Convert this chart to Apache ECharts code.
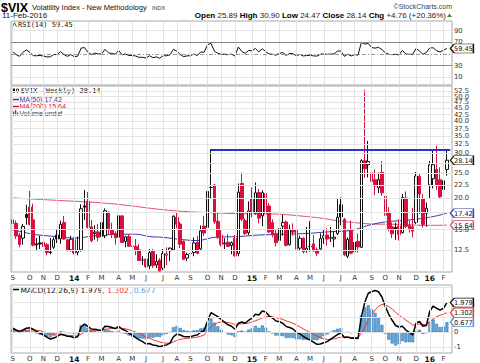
<!DOCTYPE html>
<html><head><meta charset="utf-8">
<script src="https://cdn.jsdelivr.net/npm/echarts@6/dist/echarts.min.js"></script>
<style>html,body{margin:0;padding:0;background:#fff}#c{width:480px;height:363px}</style>
</head><body><div id="c"></div>
<script>
// ---- data: weekly $VIX, Sep 2013 - Feb 2016 ----
const startDate = [2013, 8, 2];   // first week (Mon 2013-09-02)
const weekSlots = 129;            // 128 weeks + one empty slot at right
const opens = [16.4,15.9,14.3,13.9,17.2,18.4,16.4,13.2,13.3,13.4, 13.1,12.2,12.8,14.3,13.8,16.0,13.7,12.5,13.7,12.2, 12.5,18.6,19.4,15.4,14.5,14.7,16.0,14.2,17.6,15.0, 14.5,14.0,17.0,13.5,14.1,12.9,12.9,12.5,11.4,11.5, 10.8,12.4,10.9,11.4,10.6,11.9,12.4,12.5,16.8,15.8, 13.5,11.6,12.1,12.2,13.4,12.6,15.5,15.3,22.0,22.5, 16.2,14.3,13.2,13.4,13.0,13.9,12.1,22.8,16.3,14.6, 19.9,17.4,21.0,17.0,20.8,18.6,16.0,14.5,13.6,15.5, 16.1,13.1,15.0,15.0,12.7,13.9,12.4,12.9,13.2,12.5, 12.6,13.9,14.3,13.9,13.8,14.5,18.8,16.5,11.8,15.0, 12.3,13.5,12.8,28.0,27.0,25.1,23.6,21.9,25.2,20.3, 17.5,15.4,15.3,15.5,14.6,20.0,15.6,15.4,16.0,24.3, 19.9,17.4,22.5,23.8,25.9,23.6,21.6,25.89];
const highs = [17.4,16.3,14.6,15.8,18.8,21.3,19.0,13.9,14.2,14.3, 13.3,13.9,14.0,15.0,16.3,17.0,13.8,14.2,14.0,14.1, 18.9,21.5,21.1,16.4,15.6,15.8,17.3,18.2,17.7,16.0, 14.8,17.3,17.1,14.2,14.4,14.1,13.8,13.2,11.8,11.5, 12.6,12.6,12.0,11.6,12.6,12.8,12.8,17.1,17.6,16.1, 13.6,12.2,12.5,14.0,14.2,15.6,17.0,22.0,31.06,22.7, 17.6,15.0,13.9,14.4,13.5,14.3,22.8,25.2,16.6,19.4, 22.0,23.0,21.7,21.4,21.4,19.1,16.5,15.0,15.8,17.2, 16.3,15.7,15.9,15.3,14.2,14.0,15.4,16.2,14.3,12.8, 14.5,15.0,15.2,15.4,14.8,19.9,20.1,16.7,14.0,16.3, 14.1,14.5,28.4,53.29,33.5,27.5,25.9,25.2,27.9,20.9, 18.4,16.0,16.0,16.5,20.7,21.2,16.3,18.3,25.3,25.0, 20.7,19.2,27.9,30.9,32.1,26.4,25.2,30.90];
const lows = [15.2,13.8,12.8,13.1,15.7,15.6,12.9,12.5,12.6,12.4, 11.9,12.0,12.6,13.3,13.2,13.7,12.3,12.3,12.0,11.9, 12.3,16.4,15.2,13.4,13.7,13.5,13.6,13.9,14.3,13.9, 13.1,13.8,13.3,12.8,12.9,12.6,11.9,11.3,10.9,10.6, 10.5,10.6,10.6,10.3,10.4,10.9,11.3,12.4,15.2,12.7, 11.4,11.3,11.5,11.8,12.0,12.4,14.2,14.4,19.9,15.8, 13.8,12.9,12.6,12.9,12.0,11.8,11.8,16.2,14.3,14.3, 16.8,17.2,15.9,15.5,16.9,14.6,14.0,12.9,13.0,14.2, 12.9,13.0,14.2,12.5,12.4,12.1,12.2,12.3,12.3,11.8, 12.5,13.2,13.0,13.4,12.8,14.3,15.6,11.8,11.6,12.0, 11.9,12.2,12.7,24.0,24.1,21.6,20.5,20.9,20.4,16.4, 14.8,13.9,13.7,13.6,14.5,15.2,14.6,14.0,15.8,17.3, 15.3,15.4,20.0,21.8,21.5,19.9,20.2,24.47];
const closes = [15.85,14.16,13.12,15.46,16.74,15.72,13.04,13.09,13.19,12.90, 12.19,12.26,13.70,13.79,15.76,13.79,12.46,13.76,12.14,12.44, 18.14,18.41,15.29,13.57,14.68,14.00,14.11,17.82,15.00,14.41, 13.96,17.03,13.36,14.06,12.91,12.92,12.44,11.36,11.40,10.73, 12.18,10.85,11.26,10.32,12.08,12.06,12.69,16.95,15.77,13.15, 11.47,11.98,12.09,13.31,12.11,14.85,14.55,21.24,21.99,16.11, 14.03,13.12,13.31,12.90,13.33,11.82,21.08,16.49,14.50,17.79, 17.55,20.95,16.66,20.97,17.29,14.69,14.30,13.34,15.20,16.00, 13.02,15.07,14.67,12.58,13.89,12.29,12.70,12.86,12.38,12.13, 13.84,14.21,13.78,13.96,14.02,16.79,16.83,11.95,13.74,12.12, 13.39,12.83,28.03,26.05,27.80,23.20,22.28,23.62,20.94,17.08, 15.05,14.46,15.07,14.33,20.08,15.47,15.12,14.81,24.39,20.70, 15.74,18.21,27.01,27.02,22.34,20.20,23.38,28.14];
const rsi14 = [54,49,46,53,57,53,47,47,47.5,46.5, 45,45.2,49,49.3,54,49,46,49,45.5,46.2, 60,61,53,49,51.5,50,50.2,58,52,50.8, 49.8,56,48.5,50,47.5,47.5,46.5,44.3,44.4,43, 47,43.8,45,42.7,47,47,48.5,58,55,49, 45.5,46.8,47,50,47.3,53.5,53,66,68,55, 51,49.3,49.7,48.8,49.8,46.5,62,54.5,51,56, 55.5,59.5,53.5,59,54,50,49.5,48,51,52.5, 47.5,51,50.3,47,49.3,46.6,47.4,47.7,46.8,46.4, 49.5,50.2,49.5,49.8,50,55,55,46,49.5,46.7, 49,48,70,67,68,61,60,61.5,57.5,52, 49.5,48.8,49.5,48.5,56,50,49.6,49.2,59.5,55, 49.5,52.5,60.5,60.5,55.5,53.5,56.5,59.45];
// moving averages as [week index, value]
const ma50 = [[0,15.0],[6,14.4],[10,14.2],[15,14.0],[18,13.9],[24,14.2],[32,14.4],[36,14.4],[40,14.1],[44,14.0],[50,13.7],[54,13.6],[59,14.0],[66,14.1],[72,14.3],[80,14.4],[86,14.5],[92,14.7],[99,14.9],[102,15.3],[104,15.6],[109,16.1],[114,16.3],[118,16.5],[123,16.9],[127,17.42]];
const ma200 = [[0,20.0],[12,19.6],[24,19.2],[32,18.8],[42,18.1],[50,17.7],[58,17.5],[66,17.35],[76,17.3],[86,16.9],[91,16.6],[96,16.2],[101,15.95],[105,15.8],[113,15.75],[121,15.6],[127,15.64]];
const macdLine = [0.27,0.15,0.04,0.15,0.27,0.30,0.20,0.05,-0.06,-0.18, -0.32,-0.45,-0.38,-0.29,-0.12,-0.18,-0.26,-0.28,-0.36,-0.30, 0.35,0.55,0.40,0.22,0.20,0.15,0.12,0.40,0.38,0.32, 0.25,0.40,0.20,0.12,-0.05,-0.20,-0.35,-0.50,-0.62,-0.78, -0.75,-0.85,-0.88,-0.96,-0.90,-0.84,-0.72,-0.30,-0.12,-0.18, -0.28,-0.30,-0.30,-0.22,-0.18,0.00,0.12,0.75,1.30,1.18, 1.04,0.85,0.66,0.50,0.40,0.20,0.60,0.68,0.60,0.80, 0.95,1.20,1.15,1.42,1.35,1.10,0.95,0.75,0.70,0.60, 0.38,0.32,0.22,0.00,-0.10,-0.28,-0.40,-0.52,-0.65,-0.80, -0.78,-0.70,-0.62,-0.45,-0.30,-0.15,-0.05,-0.35,-0.32,-0.40, -0.38,-0.42,1.04,2.00,2.60,2.70,2.78,2.70,2.35,1.71, 1.20,0.80,0.45,0.35,0.40,0.15,0.00,-0.18,0.60,0.72, 0.40,0.45,1.40,1.75,1.60,1.48,1.60,1.979];
const signalLine = [0.09,0.10,0.09,0.09,0.12,0.15,0.16,0.14,0.10,0.04, -0.03,-0.12,-0.17,-0.19,-0.18,-0.18,-0.20,-0.22,-0.24,-0.25, -0.13,0.01,0.09,0.12,0.13,0.14,0.14,0.19,0.23,0.25, 0.25,0.28,0.26,0.23,0.17,0.10,0.01,-0.09,-0.20,-0.31, -0.40,-0.49,-0.57,-0.65,-0.70,-0.73,-0.73,-0.64,-0.54,-0.47, -0.43,-0.40,-0.38,-0.35,-0.32,-0.26,-0.18,0.10,0.38,0.54, 0.64,0.69,0.69,0.65,0.60,0.52,0.54,0.57,0.58,0.62, 0.69,0.77,0.85,0.96,1.04,1.05,1.03,0.97,0.92,0.86, 0.76,0.69,0.60,0.48,0.36,0.23,0.10,-0.02,-0.14,-0.27, -0.37,-0.44,-0.48,-0.47,-0.44,-0.38,-0.32,-0.32,-0.32,-0.34, -0.35,-0.36,-0.08,0.34,0.79,1.17,1.49,1.73,1.85,1.82, 1.70,1.55,1.33,1.14,0.99,0.82,0.66,0.49,0.51,0.55, 0.52,0.51,0.69,0.90,1.04,1.13,1.22,1.302];
const histValues = [0.18,0.05,-0.05,0.06,0.15,0.15,0.04,-0.09,-0.16,-0.22, -0.29,-0.33,-0.21,-0.10,0.06,0.00,-0.06,-0.06,-0.12,-0.05, 0.48,0.54,0.31,0.10,0.07,0.01,-0.02,0.21,0.15,0.07, 0.00,0.12,-0.06,-0.11,-0.22,-0.30,-0.36,-0.41,-0.42,-0.47, -0.35,-0.36,-0.31,-0.31,-0.20,-0.11,0.01,0.34,0.42,0.29, 0.15,0.10,0.08,0.13,0.14,0.26,0.30,0.65,0.92,0.64, 0.40,0.16,-0.03,-0.15,-0.20,-0.32,0.06,0.11,0.02,0.18, 0.26,0.43,0.30,0.46,0.31,0.05,-0.08,-0.22,-0.22,-0.26, -0.38,-0.37,-0.38,-0.48,-0.46,-0.51,-0.50,-0.50,-0.51,-0.53, -0.41,-0.26,-0.14,0.02,0.14,0.23,0.27,-0.03,0.00,-0.06, -0.03,-0.06,1.12,1.66,1.81,1.53,1.29,0.97,0.50,-0.11, -0.50,-0.75,-0.88,-0.79,-0.59,-0.67,-0.66,-0.67,0.09,0.17, -0.12,-0.06,0.71,0.85,0.56,0.35,0.38,0.677];
const trendStart = 58, trendLevel = 31.06;
const mainTicks = [12.5,15,17.5,20,22.5,25,27.5,30,32.5,35,37.5,40,42.5,45,47.5,50,52.5];
const mainHidden = [17.5, 27.5];   // labels covered by the value tags
const rsiTicks = [10,30,50,70,90];
const rsiLabeled = [10,30,70,90];
const macdTicks = [-1,0,1,2,3];
const macdLabeled = [-1,0];
const monthLetters = 'JFMAMJJASOND';

// ---- build ----
const weeks = [];
for (let i = 0; i < weekSlots; i++) {
  const d = new Date(Date.UTC(startDate[0], startDate[1], startDate[2] + 7 * i));
  weeks.push(d.toISOString().slice(0, 10));
}
const isMonthStart = (i) => i < closes.length && +weeks[i].slice(8, 10) <= 7;
const monthIdx = weeks.map((w, i) => i).filter(isMonthStart);

const RED = '#d8123e', BLUE = '#3a3aae', MARED = '#e4506c';
const candleData = closes.map((c, i) => {
  const o = opens[i], prev = i ? closes[i - 1] : o;
  const lc = c >= prev ? '#111' : RED;
  const fill = c > o ? '#fff' : lc;
  return { value: [o, c, lows[i], highs[i]],
    itemStyle: { color: fill, color0: fill, borderColor: lc, borderColor0: lc, borderColorDoji: lc } };
});

const GRIDC = '#e3e3e3';
const AXFONT = 'DejaVu Sans';
function gridSeries(k, hItems) {
  return { type: 'line', xAxisIndex: k, yAxisIndex: k, data: weeks.map(() => null), z: 1, silent: true,
    symbol: 'none', lineStyle: { width: 0 },
    markLine: { symbol: ['none', 'none'], silent: true, animation: false,
      lineStyle: { color: GRIDC, width: 1, type: 'solid' }, label: { show: false },
      data: monthIdx.map(i => ({ xAxis: i })).concat(hItems) } };
}
const lblStyle = (txt) => ({ show: true, position: 'end', formatter: txt, distance: 2, color: '#333', fontSize: 6.8, fontFamily: AXFONT });
const mainH = mainTicks.map(v => {
  const it = { yAxis: v };
  if (!mainHidden.includes(v)) it.label = lblStyle(v.toFixed(1));
  return it;
});
const rsiH = rsiTicks.map(v => {
  const it = { yAxis: v };
  if (rsiLabeled.includes(v)) it.label = lblStyle(String(v));
  if (v === 30 || v === 70) it.lineStyle = { color: '#8a8a8a', width: 1, type: 'solid' };
  if (v === 50) it.lineStyle = { color: '#999', width: 1, type: [4, 2, 1, 2] };
  return it;
});
const macdH = macdTicks.map(v => {
  const it = { yAxis: v };
  if (macdLabeled.includes(v)) it.label = lblStyle(String(v));
  return it;
});

const TAG = 'path://M0,5 L5,0 L30,0 L30,10 L5,10 Z';
function tag(y, text, color) {
  return { symbol: TAG, symbolSize: [23, 9], symbolOffset: [15, 0], symbolKeepAspect: false, silent: true, animation: false,
    data: [{ coord: [closes.length - 1, y], value: text }],
    itemStyle: { color: '#fff', borderColor: color, borderWidth: 1 },
    label: { show: true, position: 'inside', formatter: text, color: '#111', fontSize: 6.6, fontFamily: AXFONT, offset: [1.5, 0.5] } };
}

const xAxisBase = (k, showLabels) => ({
  type: 'category', gridIndex: k, data: weeks, boundaryGap: true,
  axisLine: { show: false }, axisTick: { show: false }, splitLine: { show: false },
  axisLabel: { show: showLabels, interval: (i) => isMonthStart(i), margin: 2,
    fontSize: 7, fontFamily: AXFONT, color: '#333',
    formatter: (v) => { const m = +v.slice(5, 7) - 1; return m === 0 ? '{y|' + v.slice(2, 4) + '}' : monthLetters[m]; },
    rich: { y: { fontWeight: 'bold', fontSize: 7.5, fontFamily: AXFONT, color: '#111' } } }
});

const chart = echarts.init(document.getElementById('c'), null, { renderer: 'svg' });
const txt = (x, y, text, size, fam, fill, extra) => ({ type: 'text', x, y, silent: true,
  style: Object.assign({ text, fontSize: size, fontFamily: fam, fill }, extra || {}) });
chart.setOption({
  animation: false,
  backgroundColor: '#fff',
  grid: [
    { left: 11, top: 21, width: 441, height: 64, show: true, borderColor: '#a8a8a8', borderWidth: 1, backgroundColor: '#fff', outerBoundsMode: 'none' },
    { left: 11, top: 86, width: 441, height: 186, show: true, borderColor: '#a8a8a8', borderWidth: 1, backgroundColor: '#fff', outerBoundsMode: 'none' },
    { left: 11, top: 285, width: 441, height: 68, show: true, borderColor: '#a8a8a8', borderWidth: 1, backgroundColor: '#fff', outerBoundsMode: 'none' }
  ],
  xAxis: [xAxisBase(0, false), xAxisBase(1, true), xAxisBase(2, true)],
  yAxis: [
    { type: 'value', gridIndex: 0, min: -3, max: 106.4, show: false },
    { type: 'log', gridIndex: 1, min: 10.23, max: 55.1, logBase: 10, show: false },
    { type: 'value', gridIndex: 2, min: -1.38, max: 3.15, show: false }
  ],
  series: [
    gridSeries(0, rsiH), gridSeries(1, mainH), gridSeries(2, macdH),
    { type: 'line', xAxisIndex: 0, yAxisIndex: 0, data: rsi14, symbol: 'none', z: 3,
      lineStyle: { color: '#111', width: 1 }, markPoint: tag(59.45, '59.45', '#111') },
    { type: 'line', xAxisIndex: 1, yAxisIndex: 1, data: ma200, symbol: 'none', smooth: 0.4, z: 3,
      lineStyle: { color: MARED, width: 1 }, markPoint: tag(15.64, '15.64', MARED) },
    { type: 'line', xAxisIndex: 1, yAxisIndex: 1, data: ma50, symbol: 'none', smooth: 0.4, z: 3,
      lineStyle: { color: BLUE, width: 1 }, markPoint: tag(17.42, '17.42', BLUE) },
    { type: 'candlestick', xAxisIndex: 1, yAxisIndex: 1, data: candleData, barWidth: 3, z: 4,
      itemStyle: { borderWidth: 1 },
      markLine: { symbol: ['none', 'none'], silent: true, animation: false, label: { show: false },
        lineStyle: { color: '#2a33c8', width: 2, type: 'solid' },
        data: [[{ coord: [trendStart, trendLevel] }, { coord: [weekSlots - 1, trendLevel] }]] },
      markPoint: tag(28.14, '28.14', '#111') },
    { type: 'bar', xAxisIndex: 2, yAxisIndex: 2, data: histValues, barWidth: 3, z: 2,
      itemStyle: { color: '#5fa6dc', borderColor: '#2d6ea8', borderWidth: 0.5 },
      markPoint: tag(0.677, '0.677', '#4a9ad6') },
    { type: 'line', xAxisIndex: 2, yAxisIndex: 2, data: signalLine, symbol: 'none', z: 3,
      lineStyle: { color: '#f03434', width: 1 }, markPoint: tag(1.302, '1.302', '#f03434') },
    { type: 'line', xAxisIndex: 2, yAxisIndex: 2, data: macdLine, symbol: 'none', z: 4,
      lineStyle: { color: '#000', width: 1.5 }, markPoint: tag(1.979, '1.979', '#111') }
  ],
  graphic: [
    txt(1, 1, '$VIX', 12.5, 'Liberation Sans', '#000', { fontWeight: 'bold' }),
    txt(32, 3, 'Volatility Index - New Methodology', 7.5, 'Liberation Sans', '#111'),
    txt(152, 4.5, 'INDX', 5.5, 'Liberation Sans', '#333'),
    txt(2, 11.5, '11-Feb-2016', 8, 'Liberation Sans', '#111'),
    txt(452, 2.5, '\u00a9StockCharts.com', 7, 'Liberation Sans', '#444', { align: 'right' }),
    { type: 'text', x: 446, y: 11.5, silent: true, style: {
      text: '{b|Open} 25.89 {b|High} 30.90 {b|Low} 24.47 {b|Close} 28.14 {b|Chg} +4.76 (+20.36%)',
      fontSize: 8, fontFamily: 'Liberation Sans', fill: '#222', align: 'right',
      rich: { b: { fontWeight: 'bold', fontSize: 8, fontFamily: 'Liberation Sans', fill: '#000' } } } },
    { type: 'polygon', silent: true, shape: { points: [[447, 17], [452, 17], [449.5, 13.5]] }, style: { fill: '#2a9a3a' } },
    // RSI legend
    { type: 'polyline', silent: true, shape: { points: [[12.5, 27], [14.5, 22.5], [16.5, 27]] }, style: { stroke: '#3a7a3a', lineWidth: 1, fill: null } },
    txt(18, 21.5, 'RSI(14) 59.45', 7, 'DejaVu Sans Mono', '#111'),
    // main legend
    { type: 'rect', silent: true, shape: { x: 13, y: 88.5, width: 2, height: 4 }, style: { fill: '#111' } },
    { type: 'rect', silent: true, shape: { x: 16.5, y: 89, width: 2, height: 3 }, style: { fill: '#fff', stroke: '#111', lineWidth: 0.8 } },
    txt(20.5, 87.5, '$VIX (Weekly) 28.14', 7, 'DejaVu Sans Mono', '#111'),
    { type: 'line', silent: true, shape: { x1: 12.5, y1: 99.5, x2: 19, y2: 99.5 }, style: { stroke: BLUE, lineWidth: 1.5 } },
    txt(19.5, 96, 'MA(50) 17.42', 7, 'Liberation Sans', BLUE),
    { type: 'line', silent: true, shape: { x1: 12.5, y1: 106.5, x2: 19, y2: 106.5 }, style: { stroke: RED, lineWidth: 1.5 } },
    txt(19.5, 103, 'MA(200) 15.64', 7, 'Liberation Sans', RED),
    { type: 'rect', silent: true, shape: { x: 13, y: 111.5, width: 1.3, height: 4 }, style: { fill: '#555' } },
    { type: 'rect', silent: true, shape: { x: 15, y: 110, width: 1.3, height: 5.5 }, style: { fill: '#555' } },
    { type: 'rect', silent: true, shape: { x: 17, y: 112.5, width: 1.3, height: 3 }, style: { fill: '#555' } },
    txt(19.5, 110, 'Volume undef', 7, 'Liberation Sans', '#333'),
    // MACD legend
    { type: 'line', silent: true, shape: { x1: 12.5, y1: 289.5, x2: 19, y2: 289.5 }, style: { stroke: '#000', lineWidth: 1.5 } },
    { type: 'text', x: 20.5, y: 286, silent: true, style: {
      text: 'MACD(12,26,9) 1.979{r|, 1.302}{b|, 0.677}', fontSize: 7.6, fontFamily: 'DejaVu Sans', fill: '#111',
      rich: { r: { fill: '#f03434', fontSize: 7.6, fontFamily: 'DejaVu Sans' }, b: { fill: '#4aa3e0', fontSize: 7.6, fontFamily: 'DejaVu Sans' } } } }
  ]
});
</script></body></html>
